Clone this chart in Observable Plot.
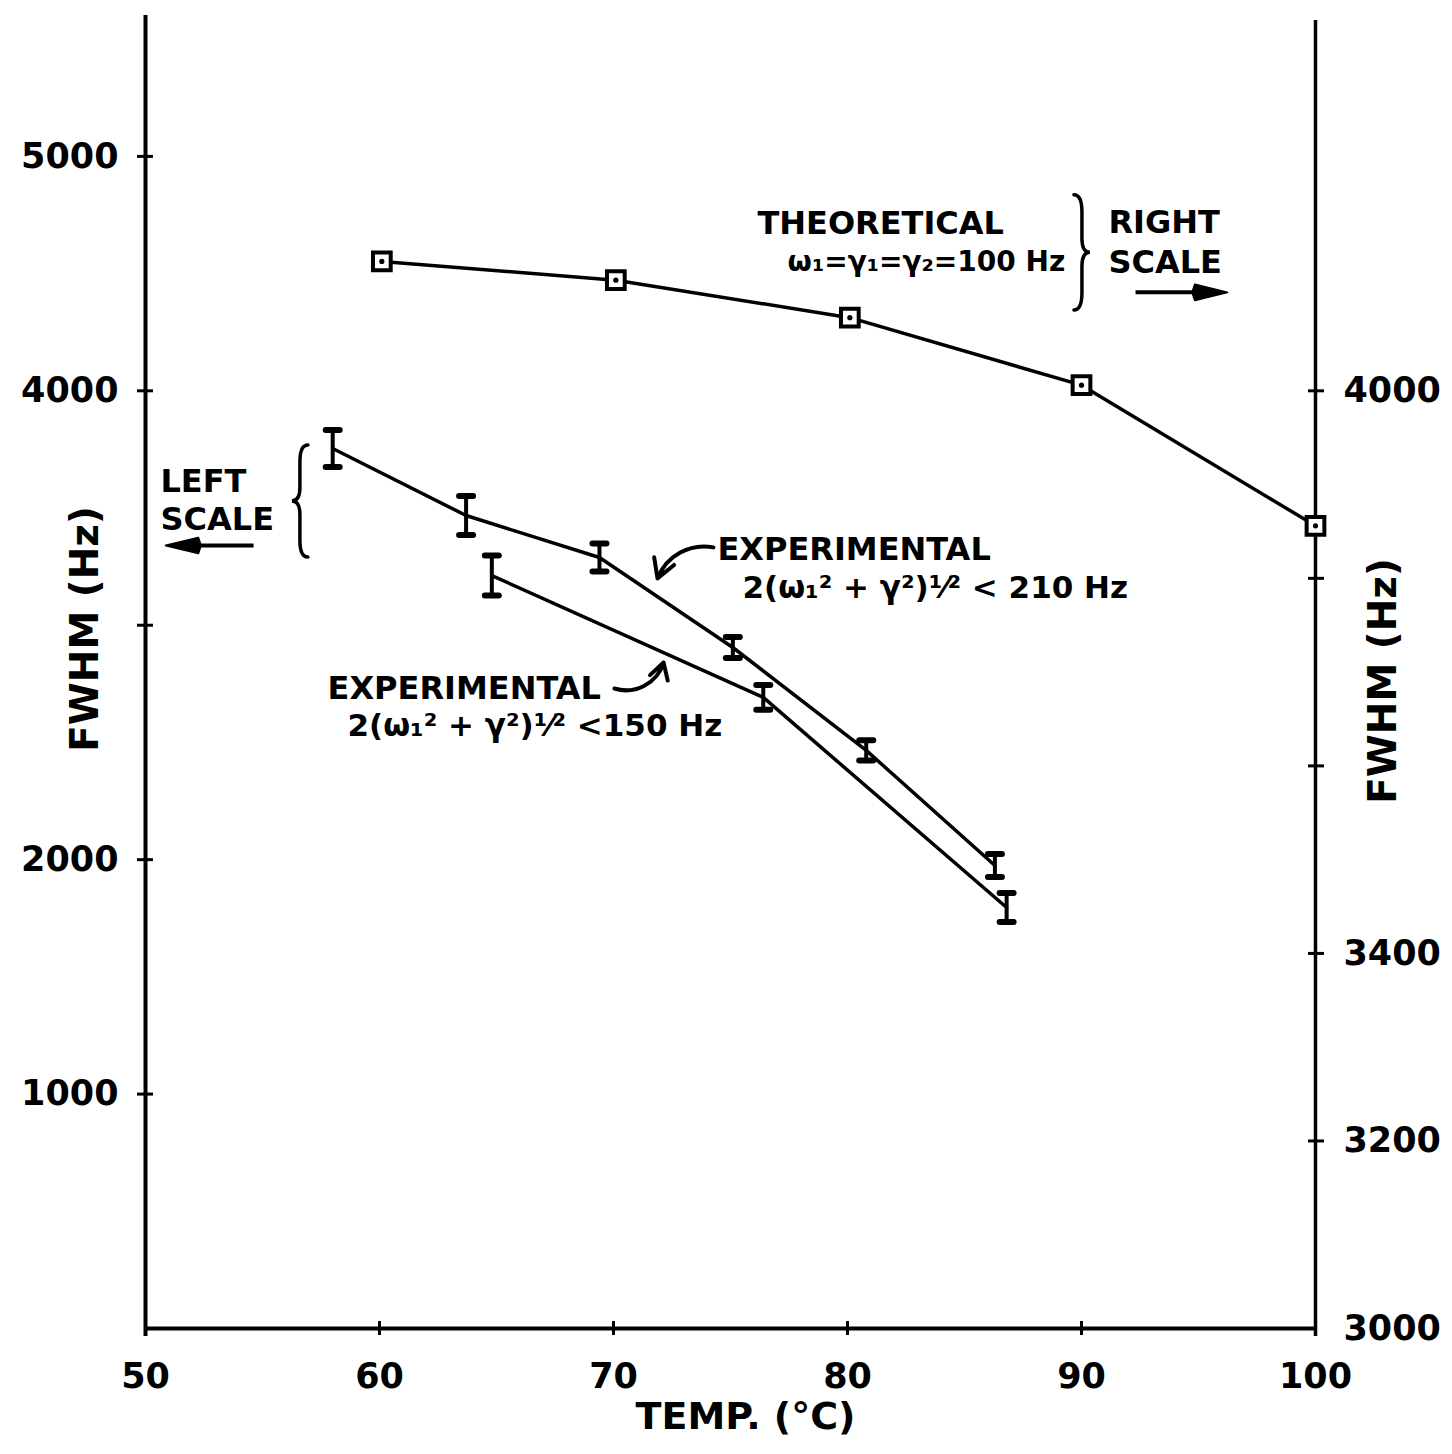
<!DOCTYPE html>
<html>
<head>
<meta charset="utf-8">
<script src="https://cdn.jsdelivr.net/npm/d3@7"></script>
<script src="https://cdn.jsdelivr.net/npm/@observablehq/plot@0.6"></script>
<style>
  html, body { margin: 0; padding: 0; background: #fff; }
  svg { display: block; }
</style>
</head>
<body>
<div id="chart"></div>
<script>
// ---------- axis ticks ----------
const xTicks = [50, 60, 70, 80, 90, 100];
const xInnerTicks = [60, 70, 80, 90];
const leftTicks = [1000, 2000, 3000, 4000, 5000];
const leftLabels = [1000, 2000, 4000, 5000];
const rightTicks = [3200, 3400, 3600, 3800, 4000];
const rightLabels = [3000, 3200, 3400, 4000];

// ---------- data ----------
// Theoretical (right scale, Hz)
const theoTemp = [60.1, 70.1, 80.1, 90.0, 100.0];
const theoFwhm = [4138, 4118, 4078, 4006, 3856];

// Experimental, 2(w1^2+g^2)^1/2 < 210 Hz (left scale)
const exp210Temp = [58.0, 63.7, 69.4, 75.1, 80.8, 86.3];
const exp210Fwhm = [3754, 3468, 3289, 2905, 2466, 1975];
const exp210Err  = [79, 83, 60, 45, 43, 49];

// Experimental, 2(w1^2+g^2)^1/2 < 150 Hz (left scale)
const exp150Temp = [64.8, 76.4, 86.8];
const exp150Fwhm = [3212, 2692, 1796];
const exp150Err  = [85, 53, 62];

// ---------- annotations ----------
const noteText = ["THEORETICAL", "RIGHT", "SCALE", "LEFT", "SCALE", "EXPERIMENTAL", "EXPERIMENTAL"];
const noteTemp = [76.15, 91.15, 91.15, 50.64, 50.64, 74.44, 57.78];
const noteFwhm = [4714, 4718, 4548, 3610, 3448, 3323, 2731];

const formulaText = ["2(ω₁² + γ²)¹⁄² < 210 Hz", "2(ω₁² + γ²)¹⁄² <150 Hz"];
const formulaTemp = [75.51, 58.63];
const formulaFwhm = [3157, 2569];

const theoFormula = ["ω₁=γ₁=γ₂=100 Hz"];
const theoFormulaTemp = [77.44];
const theoFormulaFwhm = [4548];

// curved pointer arrows (label -> curve)
const upperArrow = [{x1: 74.27, y1: 3332, x2: 71.88, y2: 3200}];
const lowerArrow = [{x1: 70.04, y1: 2730, x2: 72.14, y2: 2841}];
// scale arrows (shaft start, head centre)
const scaleArrowX1 = [92.31, 54.62];
const scaleArrowX2 = [95.4, 51.7];
const scaleArrowY = [4420, 3340];
const scaleArrowDir = [90, -90];

// braces: center temp, y span, direction of the cusp
const braceTemp = [56.62, 90.04];
const braceTop = [3767, 4834];
const braceBottom = [3289, 4343];
const braceDir = [-1, 1];

// ---------- build tables ----------
const toLeft = r => (r - 3000) * 4;   // right scale -> left scale
const theo = theoTemp.map((t, i) => ({temp: t, fwhm: toLeft(theoFwhm[i])}));
const mk = (T, F, E) => T.map((t, i) => ({temp: t, fwhm: F[i], lo: F[i] - E[i], hi: F[i] + E[i]}));
const exp210 = mk(exp210Temp, exp210Fwhm, exp210Err);
const exp150 = mk(exp150Temp, exp150Fwhm, exp150Err);
const expAll = [...exp210, ...exp150];
const notes = noteText.map((s, i) => ({text: s, temp: noteTemp[i], fwhm: noteFwhm[i]}));
const formulas = formulaText.map((s, i) => ({text: s, temp: formulaTemp[i], fwhm: formulaFwhm[i]}));
const theoNote = theoFormula.map((s, i) => ({text: s, temp: theoFormulaTemp[i], fwhm: theoFormulaFwhm[i]}));
const scaleArrows = scaleArrowX1.map((x, i) => ({x1: x, x2: scaleArrowX2[i], y: scaleArrowY[i], dir: scaleArrowDir[i]}));
const braces = braceTemp.map((t, i) => ({temp: t, top: braceTop[i], bottom: braceBottom[i], dir: braceDir[i]}));

const capSymbol = {
  draw(ctx, size) {
    const w = Math.sqrt(size / Math.PI);
    ctx.moveTo(-w, 0);
    ctx.lineTo(w, 0);
  }
};
const headSymbol = {
  draw(ctx, size) {
    const r = Math.sqrt(size / Math.PI);
    ctx.moveTo(0, -r * 1.5);
    ctx.lineTo(r * 0.6, r * 1.0);
    ctx.lineTo(0, r * 1.2);
    ctx.lineTo(-r * 0.6, r * 1.0);
    ctx.closePath();
  }
};

const braceMark = (index, scales) => {
  const g = d3.create("svg:g");
  for (const b of braces) {
    const cx = scales.x(b.temp);
    const t = scales.y(b.top), bt = scales.y(b.bottom);
    const cy = (t + bt) / 2, h = bt - t;
    const w = 8 * b.dir;
    const e = cx - w, m = cx, c = cx + w;
    const d = `M${e},${t} Q${m},${t} ${m},${t + h * 0.15} L${m},${cy - h * 0.12} Q${m},${cy} ${c},${cy}` +
              ` Q${m},${cy} ${m},${cy + h * 0.12} L${m},${bt - h * 0.15} Q${m},${bt} ${e},${bt}`;
    g.append("path").attr("d", d).attr("fill", "none").attr("stroke", "black")
      .attr("stroke-width", 3.5).attr("stroke-linecap", "round");
  }
  return g.node();
};

const FONT = "DejaVu Sans, Liberation Sans, sans-serif";

const chart = Plot.plot({
  width: 1452,
  height: 1454,
  marginLeft: 145,
  marginRight: 137,
  marginTop: 15,
  marginBottom: 126,
  style: {fontFamily: FONT, color: "black", background: "white"},
  x: {domain: [50, 100], label: null},
  y: {domain: [0, 5601], label: null},
  marks: [
    // axis lines
    Plot.ruleX([50], {strokeWidth: 4, insetBottom: -8}),
    Plot.ruleX([100], {strokeWidth: 3.5, insetBottom: -8, insetTop: 5}),
    Plot.ruleY([0], {strokeWidth: 4}),
    // crossing ticks
    Plot.axisY({anchor: "left", ticks: leftTicks, tickSize: 16, dx: 8, fill: "none", strokeWidth: 3, label: null}),
    Plot.axisY({anchor: "right", ticks: rightTicks.map(toLeft), tickSize: 16, dx: -8, fill: "none", strokeWidth: 3, label: null}),
    Plot.axisX({anchor: "bottom", ticks: xInnerTicks, tickSize: 14, dy: -7, fill: "none", strokeWidth: 3, label: null}),
    // tick labels
    Plot.axisY({anchor: "left", ticks: leftLabels, tickSize: 0, tickPadding: 27, tickFormat: d => String(d),
                fontSize: 35, fontWeight: "bold", label: null}),
    Plot.axisY({anchor: "right", ticks: rightLabels.map(toLeft), tickSize: 0, tickPadding: 28,
                tickFormat: d => String(Math.round(3000 + d / 4)), fontSize: 35, fontWeight: "bold", label: null}),
    Plot.axisX({anchor: "bottom", ticks: xTicks, tickSize: 0, tickPadding: 35, tickFormat: d => String(d),
                fontSize: 35, fontWeight: "bold", label: null}),
    // axis titles
    Plot.text(["FWHM (Hz)"], {frameAnchor: "left", textAnchor: "middle", rotate: -90, dx: -60, dy: -43, fontSize: 39, fontWeight: "bold"}),
    Plot.text(["FWHM (Hz)"], {frameAnchor: "right", textAnchor: "middle", rotate: -90, dx: 68, dy: 9, fontSize: 39, fontWeight: "bold"}),
    Plot.text(["TEMP. (°C)"], {frameAnchor: "bottom", dx: 15, dy: 100, fontSize: 38, fontWeight: "bold"}),
    // data lines
    Plot.line(theo, {x: "temp", y: "fwhm", strokeWidth: 3.5}),
    Plot.line(exp210, {x: "temp", y: "fwhm", strokeWidth: 3.5}),
    Plot.line(exp150, {x: "temp", y: "fwhm", strokeWidth: 3.5}),
    // error bars
    Plot.ruleX(expAll, {x: "temp", y1: "lo", y2: "hi", strokeWidth: 4}),
    Plot.dot(expAll, {x: "temp", y: "lo", symbol: capSymbol, r: 7, fill: "none", stroke: "black", strokeWidth: 6, strokeLinecap: "round"}),
    Plot.dot(expAll, {x: "temp", y: "hi", symbol: capSymbol, r: 7, fill: "none", stroke: "black", strokeWidth: 6, strokeLinecap: "round"}),
    // theoretical markers
    Plot.dot(theo, {x: "temp", y: "fwhm", symbol: "square", r: 10, fill: "white", stroke: "black", strokeWidth: 4}),
    Plot.dot(theo, {x: "temp", y: "fwhm", r: 2.6, fill: "black"}),
    // annotations
    Plot.text(notes, {x: "temp", y: "fwhm", text: "text", textAnchor: "start", fontSize: 32, fontWeight: "bold"}),
    Plot.text(formulas, {x: "temp", y: "fwhm", text: "text", textAnchor: "start", fontSize: 31, fontWeight: "bold"}),
    Plot.text(theoNote, {x: "temp", y: "fwhm", text: "text", textAnchor: "start", fontSize: 28, fontWeight: "bold"}),
    Plot.arrow(upperArrow, {x1: "x1", y1: "y1", x2: "x2", y2: "y2", bend: -40, strokeWidth: 4, headLength: 14}),
    Plot.arrow(lowerArrow, {x1: "x1", y1: "y1", x2: "x2", y2: "y2", bend: -45, strokeWidth: 4, headLength: 14}),
    Plot.link(scaleArrows, {x1: "x1", x2: "x2", y1: "y", y2: "y", strokeWidth: 4}),
    Plot.dot(scaleArrows, {x: "x2", y: "y", rotate: "dir", symbol: headSymbol, r: 13, fill: "black", stroke: "black", strokeWidth: 2, strokeLinejoin: "round"}),
    braceMark
  ]
});

document.getElementById("chart").appendChild(chart);
</script>
</body>
</html>
